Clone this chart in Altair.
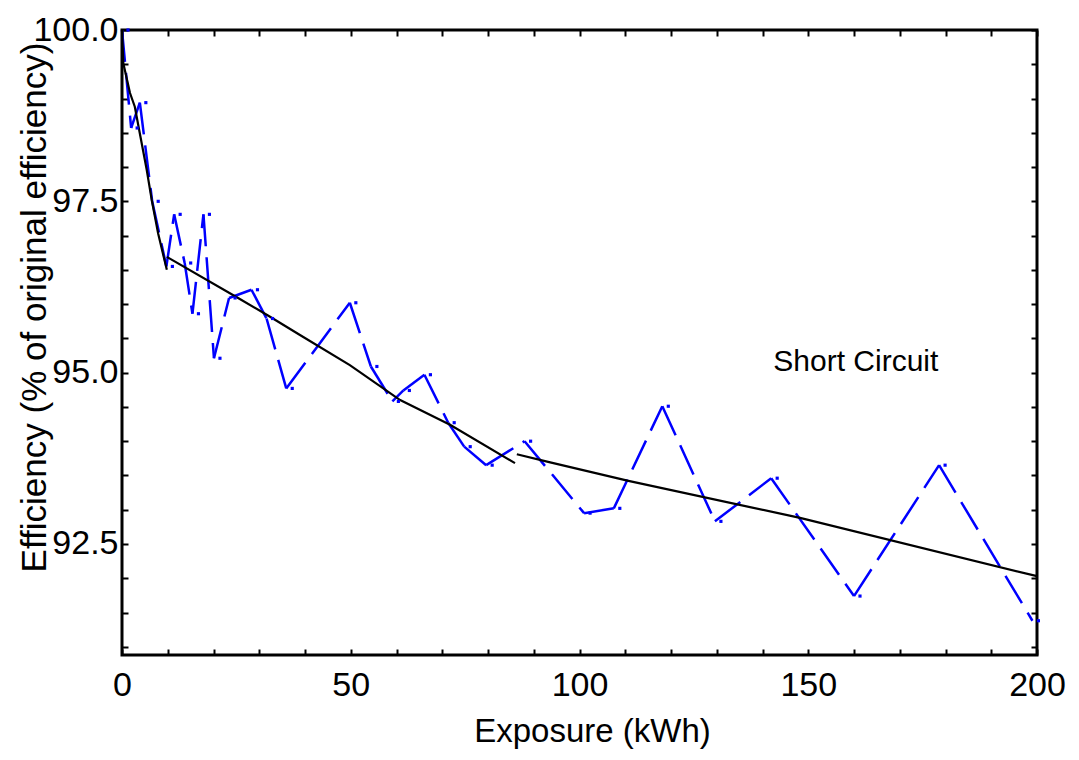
import altair as alt
import pandas as pd

# Measured data (blue dashed series with markers)
blue_x = [0.0, 2.0, 3.9, 6.6, 9.7, 11.4, 13.7, 15.4, 17.8, 20.1, 23.4, 28.3, 31.6, 35.9,
          49.8, 54.4, 59.1, 61.5, 66.1, 71.3, 74.8, 79.6, 88.0, 101.0, 107.5, 118.1,
          129.6, 141.9, 160.0, 178.6, 199.0]
blue_y = [100.0, 98.57, 98.94, 97.50, 96.55, 97.31, 96.60, 95.86, 97.31, 95.21, 96.09,
          96.21, 95.79, 94.77, 96.02, 95.09, 94.58, 94.74, 94.97, 94.27, 93.92, 93.65,
          94.00, 92.95, 93.02, 94.51, 92.83, 93.46, 91.74, 93.65, 91.38]

# Fitted curve, three pieces (black solid)
fit1_x = [0.0, 0.3, 1.75, 2.8, 3.9, 5.4, 6.5, 7.9, 9.8]
fit1_y = [100.0, 99.51, 99.08, 98.88, 98.49, 97.96, 97.52, 97.03, 96.50]
fit2_x = [9.8, 25.1, 32.0, 38.9, 49.8, 60.8, 71.7, 85.9]
fit2_y = [96.69, 96.10, 95.83, 95.55, 95.11, 94.60, 94.24, 93.68]
fit3_x = [86.3, 93.6, 110.7, 148.2, 200.0]
fit3_y = [93.81, 93.69, 93.42, 92.88, 92.03]

# Annotation
note_text = ["Short Circuit"]
note_x = [160.4]
note_y = [95.15]

# Axis ticks
x_ticks = [0, 10, 20, 30, 40, 50, 60, 70, 80, 90, 100, 110, 120, 130, 140, 150,
           160, 170, 180, 190, 200]
y_ticks = [91.0, 91.5, 92.0, 92.5, 93.0, 93.5, 94.0, 94.5, 95.0, 95.5, 96.0, 96.5,
           97.0, 97.5, 98.0, 98.5, 99.0, 99.5, 100.0]

FONT = "Liberation Sans"

# Build tables
seg_rows = []
for i in range(len(blue_x) - 1):
    seg_rows.append({"x": blue_x[i], "y": blue_y[i], "seg": i})
    seg_rows.append({"x": blue_x[i + 1], "y": blue_y[i + 1], "seg": i})
blue_seg_df = pd.DataFrame(seg_rows)
blue_pts_df = pd.DataFrame({"x": blue_x, "y": blue_y})

fit_rows = []
for sid, (fx, fy) in enumerate([(fit1_x, fit1_y), (fit2_x, fit2_y), (fit3_x, fit3_y)]):
    for a, b in zip(fx, fy):
        fit_rows.append({"x": a, "y": b, "piece": sid})
fit_df = pd.DataFrame(fit_rows)
note_df = pd.DataFrame({"t": note_text, "x": note_x, "y": note_y})

xs = alt.Scale(domain=[0, 200], nice=False, zero=False)
ys = alt.Scale(domain=[90.88, 100], nice=False, zero=False)

common_axis = dict(offset=-6, tickSize=6, tickWidth=2, tickColor="black",
                   domain=False, grid=False, labelOverlap=False, labelFlush=False)

x_axis_bottom = alt.Axis(orient="bottom", values=x_ticks,
                         labelExpr="datum.value % 50 == 0 ? datum.label : ''",
                         labelFont=FONT, labelFontSize=34, labelColor="black",
                         labelPadding=13, title="Exposure (kWh)", titleFont=FONT,
                         titleFontSize=33, titleFontWeight="normal", titleColor="black",
                         titlePadding=13, titleX=470, titleAlign="center",
                         **common_axis)
y_axis_left = alt.Axis(orient="left", values=y_ticks, format=".1f",
                       labelExpr="datum.value % 2.5 == 0 ? datum.label : ''",
                       labelFont=FONT, labelFontSize=34, labelColor="black",
                       labelPadding=4, title="Efficiency (% of original efficiency)",
                       titleFont=FONT, titleFontSize=35, titleFontWeight="normal",
                       titleColor="black", titleX=-94, titleY=277,
                       titleBaseline="middle", titleAlign="center", titleAngle=270,
                       **common_axis)
x_axis_top = alt.Axis(orient="top", values=x_ticks, labels=False, title=None, **common_axis)
y_axis_right = alt.Axis(orient="right", values=y_ticks, labels=False, title=None, **common_axis)

blue_lines = alt.Chart(blue_seg_df).mark_line(
    color="#0000ff", strokeWidth=2.5, strokeDash=[32, 11]
).encode(
    x=alt.X("x:Q", scale=xs, axis=x_axis_bottom),
    y=alt.Y("y:Q", scale=ys, axis=y_axis_left),
    detail="seg:N",
)

fit_lines = alt.Chart(fit_df).mark_line(color="black", strokeWidth=2.2).encode(
    x=alt.X("x:Q", scale=xs, axis=x_axis_top),
    y=alt.Y("y:Q", scale=ys, axis=y_axis_right),
    detail="piece:N",
)

markers = alt.Chart(blue_pts_df).mark_square(
    color="#0000ff", size=10, opacity=1, xOffset=6
).encode(
    x=alt.X("x:Q", scale=xs, axis=None),
    y=alt.Y("y:Q", scale=ys, axis=None),
)

note = alt.Chart(note_df).mark_text(
    font=FONT, fontSize=30, color="black", align="center", baseline="middle"
).encode(
    x=alt.X("x:Q", scale=xs, axis=None),
    y=alt.Y("y:Q", scale=ys, axis=None),
    text="t:N",
)

chart = alt.layer(blue_lines, fit_lines, markers, note).resolve_axis(
    x="independent", y="independent"
).properties(
    width=915, height=625,
    autosize=alt.AutoSizeParams(type="none"),
    padding={"left": 114, "top": 22, "right": 30, "bottom": 97},
).configure(background="white").configure_view(stroke="black", strokeWidth=3)

chart.save("out.html", embed_options={"renderer": "svg", "actions": False})
